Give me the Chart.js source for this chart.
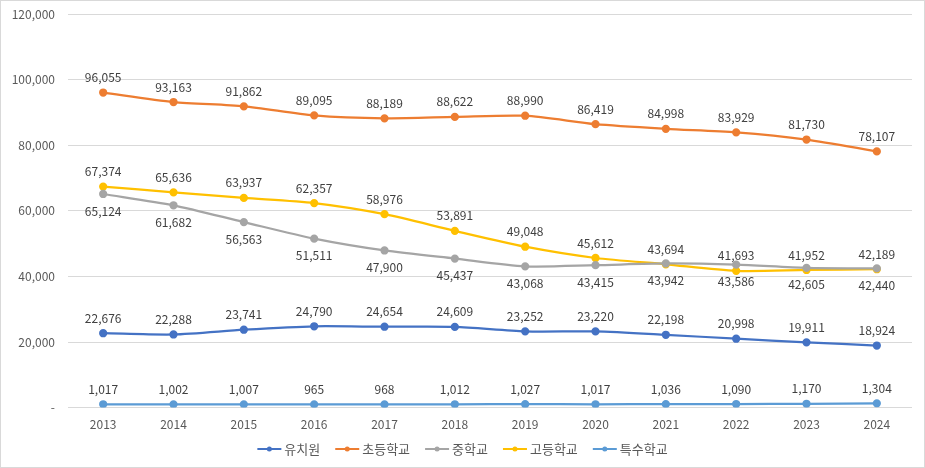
<!DOCTYPE html>
<html>
<head>
<meta charset="utf-8">
<script src="https://cdn.jsdelivr.net/npm/chart.js@4"></script>
<style>
  html, body { margin: 0; padding: 0; background: #fff; }
  #wrap { width: 925px; height: 468px; position: relative; }
</style>
</head>
<body>
<div id="wrap"><canvas id="chart"></canvas></div>
<script>
const years = ['2013', '2014', '2015', '2016', '2017', '2018', '2019', '2020', '2021', '2022', '2023', '2024'];
const seriesNames = ['유치원', '초등학교', '중학교', '고등학교', '특수학교'];
const kindergarten = [22676, 22288, 23741, 24790, 24654, 24609, 23252, 23220, 22198, 20998, 19911, 18924];
const elementary = [96055, 93163, 91862, 89095, 88189, 88622, 88990, 86419, 84998, 83929, 81730, 78107];
const middle = [65124, 61682, 56563, 51511, 47900, 45437, 43068, 43415, 43942, 43586, 42605, 42440];
const high = [67374, 65636, 63937, 62357, 58976, 53891, 49048, 45612, 43694, 41693, 41952, 42189];
const special = [1017, 1002, 1007, 965, 968, 1012, 1027, 1017, 1036, 1090, 1170, 1304];
const yTicks = [0, 20000, 40000, 60000, 80000, 100000, 120000];

const seriesValues = [kindergarten, elementary, middle, high, special];
const seriesColors = ['#4472C4', '#ED7D31', '#A5A5A5', '#FFC000', '#5B9BD5'];
// middle school labels sit under the points, the rest above
const labelBelow = [false, false, true, false, false];

const FONT = "'Noto Sans CJK KR', 'Noto Sans', sans-serif";

const frame = {
  id: 'frame',
  beforeDraw(chart) {
    const ctx = chart.ctx;
    ctx.save();
    ctx.fillStyle = '#fff';
    ctx.fillRect(0, 0, chart.width, chart.height);
    ctx.restore();
  },
  afterDraw(chart) {
    const ctx = chart.ctx;
    ctx.save();
    ctx.strokeStyle = '#d9d9d9';
    ctx.lineWidth = 1;
    ctx.strokeRect(0.5, 0.5, chart.width - 1, chart.height - 1);
    ctx.restore();
  }
};

const valueLabels = {
  id: 'valueLabels',
  afterDatasetsDraw(chart) {
    const ctx = chart.ctx;
    ctx.save();
    ctx.font = '12px ' + FONT;
    ctx.fillStyle = '#404040';
    ctx.textAlign = 'center';
    ctx.textBaseline = 'middle';
    chart.data.datasets.forEach((ds, i) => {
      const meta = chart.getDatasetMeta(i);
      meta.data.forEach((pt, j) => {
        const text = ds.data[j].toLocaleString('en-US');
        const y = labelBelow[i] ? pt.y + 17 : pt.y - 15;
        ctx.fillText(text, pt.x, y);
      });
    });
    ctx.restore();
  }
};

// Excel style legend: line with a dot, then the name, centred at the bottom
const bottomLegend = {
  id: 'bottomLegend',
  afterDraw(chart) {
    const ctx = chart.ctx;
    const swatchW = 24, gap = 3, spacing = 15, y = 449;
    ctx.save();
    ctx.font = '13px ' + FONT;
    ctx.textBaseline = 'middle';
    const widths = seriesNames.map(n => swatchW + gap + ctx.measureText(n).width);
    const total = widths.reduce((a, b) => a + b, 0) + spacing * (widths.length - 1);
    let x = chart.width / 2 - total / 2;
    seriesNames.forEach((name, i) => {
      ctx.strokeStyle = seriesColors[i];
      ctx.fillStyle = seriesColors[i];
      ctx.lineWidth = 2;
      ctx.beginPath();
      ctx.moveTo(x, y);
      ctx.lineTo(x + swatchW, y);
      ctx.stroke();
      ctx.beginPath();
      ctx.arc(x + swatchW / 2, y, 2.5, 0, Math.PI * 2);
      ctx.fill();
      ctx.fillStyle = '#595959';
      ctx.fillText(name, x + swatchW + gap, y);
      x += widths[i] + spacing;
    });
    ctx.restore();
  }
};

const chart = new Chart(document.getElementById('chart'), {
  type: 'line',
  data: {
    labels: years,
    datasets: seriesNames.map((name, i) => ({
      label: name,
      data: seriesValues[i],
      borderColor: seriesColors[i],
      backgroundColor: seriesColors[i],
      borderWidth: 2.25,
      pointRadius: 3,
      pointHoverRadius: 3,
      pointStyle: 'circle',
      tension: 0.25,
      fill: false
    }))
  },
  options: {
    responsive: true,
    maintainAspectRatio: false,
    animation: false,
    layout: { padding: { left: 0, right: 13, top: 14, bottom: 26 } },
    scales: {
      x: {
        offset: true,
        grid: { display: false, drawTicks: false },
        border: { display: false },
        ticks: { color: '#595959', font: { family: FONT, size: 12 }, padding: 10 }
      },
      y: {
        min: 0,
        max: 120000,
        afterBuildTicks(scale) {
          scale.ticks = yTicks.map(v => ({ value: v }));
        },
        afterFit(scale) {
          scale.width = 68;
          scale.paddingTop = 0;
          scale.paddingBottom = 0;
        },
        grid: { color: '#d9d9d9', drawTicks: false, lineWidth: 1 },
        border: { display: false },
        ticks: {
          color: '#595959',
          font: { family: FONT, size: 12 },
          padding: 13,
          callback: v => (v === 0 ? '-' : v.toLocaleString('en-US'))
        }
      }
    },
    plugins: {
      legend: { display: false },
      tooltip: { enabled: false }
    }
  },
  plugins: [frame, valueLabels, bottomLegend]
});
</script>
</body>
</html>
